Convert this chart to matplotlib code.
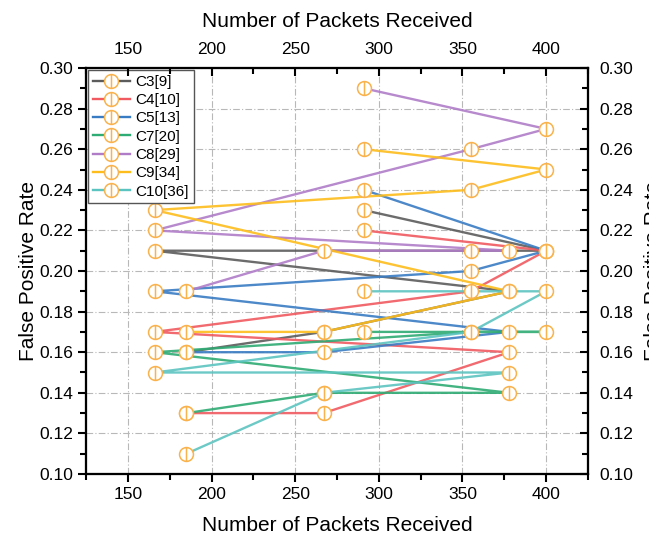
import numpy as np
import matplotlib
matplotlib.use('Agg')
from matplotlib import pyplot as plt
from matplotlib.path import Path
from matplotlib.lines import Line2D
from matplotlib.ticker import MultipleLocator

plt.rcParams['font.family'] = ['Liberation Sans', 'DejaVu Sans']

# packets received for each configuration, in run order
packets = [291, 400, 355, 166, 378, 267, 185]

labels = ['C3[9]', 'C4[10]', 'C5[13]', 'C7[20]', 'C8[29]', 'C9[34]', 'C10[36]']
fpr_c3 = [0.23, 0.21, 0.21, 0.21, 0.19, 0.17, 0.16]
fpr_c4 = [0.22, 0.21, 0.19, 0.17, 0.16, 0.13, 0.13]
fpr_c5 = [0.24, 0.21, 0.20, 0.19, 0.17, 0.16, 0.16]
fpr_c7 = [0.17, 0.17, 0.17, 0.16, 0.14, 0.14, 0.13]
fpr_c8 = [0.29, 0.27, 0.26, 0.22, 0.21, 0.21, 0.19]
fpr_c9 = [0.26, 0.25, 0.24, 0.23, 0.19, 0.17, 0.17]
fpr_c10 = [0.19, 0.19, 0.17, 0.15, 0.15, 0.14, 0.11]
series = [fpr_c3, fpr_c4, fpr_c5, fpr_c7, fpr_c8, fpr_c9, fpr_c10]

colors = ['#5c5c5c', '#f05a60', '#3a7cc4', '#2fab74', '#b07cc8', '#fdbd1c', '#5cc4c0']
mk_color = '#f9b24c'

# circle with a vertical bar through it
circ = Path.unit_circle()
bar = Path([[0, -1], [0, 1]], [Path.MOVETO, Path.LINETO])
mk = Path.make_compound_path(circ, bar)

tick_fs = 12.5
label_fs = 15

fig = plt.figure(figsize=(6.49, 5.36), dpi=100)
ax = fig.add_axes([86/649, 1-474/536, (588-86)/649, (474-68)/536])

for y, c in zip(series, colors):
    ax.plot(packets, y, color=c, lw=1.7, alpha=0.9, zorder=2, solid_capstyle='butt')
    ax.plot(packets, y, ls='none', marker=mk, ms=10, mfc='white', mec=mk_color,
            mew=1.1, zorder=3)

ax.set_xlim(125, 425)
ax.set_ylim(0.10, 0.30)
ax.xaxis.set_major_locator(MultipleLocator(50))
ax.xaxis.set_minor_locator(MultipleLocator(25))
ax.yaxis.set_major_locator(MultipleLocator(0.02))
ax.yaxis.set_minor_locator(MultipleLocator(0.01))
ax.yaxis.set_major_formatter(plt.FormatStrFormatter('%.2f'))
ax.grid(True, which='major', color='#b8b8b8', ls=(0, (6, 2, 1, 2)), lw=0.8)
ax.tick_params(which='major', direction='out', length=6, width=1.5, labelsize=tick_fs)
ax.tick_params(which='minor', direction='out', length=4, width=1.5)
for s in ax.spines.values():
    s.set_linewidth(1.5)
ax.set_xlabel('Number of Packets Received', fontsize=label_fs, labelpad=10)
ax.set_ylabel('False Positive Rate', fontsize=label_fs, labelpad=1)

# mirrored top and right axes
axt = ax.twiny()
axt.set_xlim(ax.get_xlim())
axt.xaxis.set_major_locator(MultipleLocator(50))
axt.xaxis.set_minor_locator(MultipleLocator(25))
axt.tick_params(which='major', direction='in', length=6, width=1.5, labelsize=tick_fs, pad=8)
axt.tick_params(which='minor', direction='in', length=4, width=1.5)
axt.set_xlabel('Number of Packets Received', fontsize=label_fs, labelpad=11)

axr = ax.twinx()
axr.set_ylim(ax.get_ylim())
axr.yaxis.set_major_locator(MultipleLocator(0.02))
axr.yaxis.set_minor_locator(MultipleLocator(0.01))
axr.yaxis.set_major_formatter(plt.FormatStrFormatter('%.2f'))
axr.tick_params(which='major', direction='in', length=6, width=1.5, labelsize=tick_fs, pad=8)
axr.tick_params(which='minor', direction='in', length=4, width=1.5)
axr.set_ylabel('False Positive Rate', fontsize=label_fs, labelpad=8)
for a in (axt, axr):
    for s in a.spines.values():
        s.set_linewidth(1.5)

handles = [Line2D([], [], color=c, lw=1.7, marker=mk, ms=10, mfc='white',
                  mec=mk_color, mew=1.1) for c in colors]
leg = ax.legend(handles, labels, loc='upper left', fontsize=11, frameon=True,
                fancybox=False, edgecolor='#555555', framealpha=1,
                borderaxespad=0.15, handlelength=2.4, handletextpad=0.4,
                labelspacing=0.28, borderpad=0.3)
leg.get_frame().set_linewidth(1.0)
leg.set_zorder(5)

fig.savefig('out.png', dpi=100)
